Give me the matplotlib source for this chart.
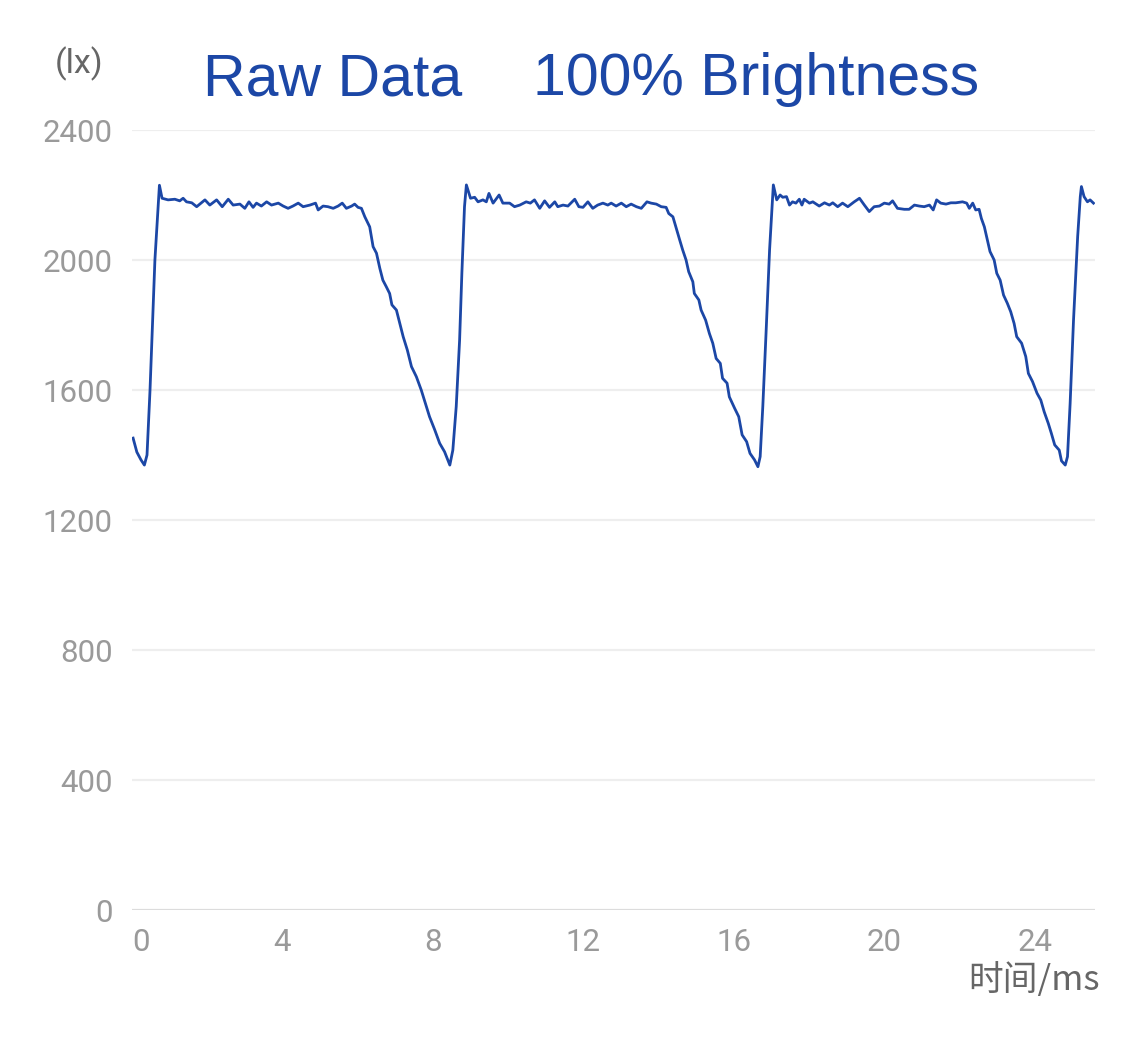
import matplotlib
matplotlib.use("Agg")
import matplotlib.pyplot as plt
import numpy as np

plt.rcParams['font.family'] = ['Noto Sans CJK SC', 'DejaVu Sans']

# time in ms, illuminance in lx
t_ms = [
    0.03, 0.13, 0.24, 0.33, 0.40, 0.48, 0.61, 0.73, 0.80, 0.96,
    1.14, 1.27, 1.36, 1.45, 1.59, 1.72, 1.94, 2.07, 2.25, 2.40,
    2.56, 2.69, 2.87, 3.00, 3.11, 3.22, 3.31, 3.44, 3.58, 3.71,
    3.89, 4.02, 4.15, 4.28, 4.42, 4.55, 4.73, 4.88, 4.95, 5.08,
    5.21, 5.35, 5.48, 5.59, 5.70, 5.84, 5.92, 6.01, 6.10, 6.19,
    6.32, 6.41, 6.50, 6.59, 6.67, 6.76, 6.85, 6.91, 7.03, 7.12,
    7.21, 7.32, 7.43, 7.56, 7.69, 7.80, 7.91, 8.05, 8.18, 8.31,
    8.45, 8.53, 8.62, 8.71, 8.77, 8.84, 8.89,
    9.00, 9.11, 9.20, 9.33, 9.42, 9.49, 9.60, 9.76, 9.86, 10.04,
    10.17, 10.31, 10.48, 10.59, 10.70, 10.84, 10.97, 11.10, 11.24, 11.32,
    11.46, 11.59, 11.77, 11.88, 11.99, 12.12, 12.25, 12.38, 12.52, 12.65,
    12.74, 12.87, 13.01, 13.14, 13.27, 13.41, 13.54, 13.69, 13.80, 13.94,
    14.07, 14.20, 14.27, 14.38, 14.47, 14.56, 14.64, 14.73, 14.80, 14.91,
    14.95, 15.07, 15.13, 15.25, 15.35, 15.44, 15.53, 15.64, 15.70, 15.82,
    15.88, 16.02, 16.13, 16.22, 16.34, 16.43, 16.55, 16.64, 16.70, 16.77,
    16.86, 16.95, 17.02, 17.05,
    17.14, 17.23, 17.30, 17.40, 17.48, 17.56, 17.65, 17.74, 17.81, 17.87,
    18.01, 18.10, 18.27, 18.41, 18.54, 18.63, 18.76, 18.89, 19.03, 19.20,
    19.34, 19.47, 19.60, 19.73, 19.87, 20.00, 20.13, 20.22, 20.35, 20.53,
    20.66, 20.80, 20.93, 21.06, 21.20, 21.30, 21.39, 21.50, 21.64, 21.77,
    21.90, 22.08, 22.19, 22.26, 22.35, 22.43, 22.52, 22.58, 22.66, 22.74,
    22.81, 22.92, 22.99, 23.08, 23.17, 23.27, 23.36, 23.45, 23.52, 23.65,
    23.76, 23.83, 23.94, 24.06, 24.16, 24.25, 24.36, 24.44, 24.53, 24.65,
    24.71, 24.81, 24.87, 24.94, 25.03, 25.14, 25.21, 25.24, 25.31, 25.40,
    25.47, 25.56,
]
lux = [
    1452, 1409, 1385, 1369, 1400, 1600, 2000, 2230, 2190, 2185,
    2187, 2182, 2190, 2179, 2176, 2164, 2185, 2169, 2185, 2164,
    2187, 2169, 2172, 2159, 2179, 2162, 2175, 2166, 2179, 2169,
    2175, 2166, 2159, 2166, 2175, 2164, 2169, 2175, 2154, 2166,
    2164, 2159, 2166, 2175, 2159, 2166, 2172, 2162, 2159, 2133,
    2102, 2041, 2021, 1974, 1938, 1918, 1897, 1862, 1846, 1805,
    1764, 1723, 1672, 1641, 1600, 1559, 1518, 1477, 1436, 1410,
    1369, 1415, 1549, 1754, 1959, 2164, 2231,
    2190, 2193, 2179, 2185, 2179, 2205, 2175, 2200, 2175, 2175,
    2164, 2169, 2179, 2175, 2185, 2159, 2182, 2162, 2179, 2164,
    2169, 2166, 2187, 2164, 2162, 2179, 2159, 2169, 2175, 2169,
    2175, 2166, 2175, 2164, 2172, 2164, 2159, 2179, 2175, 2172,
    2164, 2162, 2143, 2133, 2097, 2062, 2031, 2000, 1964, 1933,
    1897, 1877, 1846, 1815, 1774, 1744, 1697, 1682, 1636, 1621,
    1579, 1544, 1518, 1462, 1441, 1405, 1385, 1364, 1395, 1549,
    1785, 2031, 2175, 2231,
    2185, 2200, 2193, 2195, 2169, 2179, 2175, 2187, 2169, 2187,
    2175, 2179, 2166, 2176, 2169, 2176, 2164, 2175, 2164, 2179,
    2190, 2169, 2149, 2164, 2166, 2175, 2172, 2182, 2159, 2156,
    2156, 2169, 2166, 2164, 2169, 2154, 2185, 2175, 2172, 2176,
    2176, 2179, 2175, 2159, 2175, 2154, 2156, 2128, 2102, 2062,
    2026, 2000, 1959, 1938, 1892, 1867, 1841, 1805, 1764, 1744,
    1703, 1651, 1626, 1590, 1569, 1533, 1497, 1467, 1431, 1415,
    1382, 1369, 1395, 1559, 1815, 2072, 2195, 2226, 2195, 2179,
    2185, 2175,
]
x_ticks = [0, 4, 8, 12, 16, 20, 24]
y_ticks = [0, 400, 800, 1200, 1600, 2000, 2400]

blue = '#1c47a6'
grey_txt = '#9a9a9a'

fig = plt.figure(figsize=(11.25, 10.4), dpi=100)
ax = fig.add_axes([0.1173, 0.125, 0.856, 0.75])

for yv in y_ticks[1:]:
    ax.axhline(yv, color='#eeeeee', lw=1.6, zorder=0)
ax.axhline(0, color='#dcdcdc', lw=1.6, zorder=0)

ax.plot(t_ms, lux, color=blue, lw=2.0, zorder=3)

ax.set_xlim(0, 25.6)
ax.set_ylim(0, 2400)
ax.set_xticks(x_ticks)
ax.set_yticks(y_ticks)
ax.tick_params(length=0, colors=grey_txt, labelsize=22.5)
ax.tick_params(axis='y', pad=14)
ax.tick_params(axis='x', pad=13)
for lab in ax.get_xticklabels() + ax.get_yticklabels():
    lab.set_family(['Roboto', 'DejaVu Sans'])
ax.get_xticklabels()[0].set_ha('left')
for s in ax.spines.values():
    s.set_visible(False)

fig.text(79 / 1125, 1 - 64 / 1040, '(lx)', ha='center', va='center',
         fontsize=24.5, color='#666666', family=['Roboto', 'DejaVu Sans'])
fig.text(1100 / 1125, 1 - 981 / 1040, '时间/ms', ha='right', va='center',
         fontsize=25, color='#666666')
fig.text(203 / 1125, 1 - 95 / 1040, 'Raw Data', ha='left', va='baseline',
         fontsize=42.5, color=blue, family='Liberation Sans')
fig.text(533 / 1125, 1 - 95 / 1040, '100% Brightness', ha='left', va='baseline',
         fontsize=42.5, color=blue, family='Liberation Sans')

fig.savefig('out.png', dpi=100, facecolor='white')
